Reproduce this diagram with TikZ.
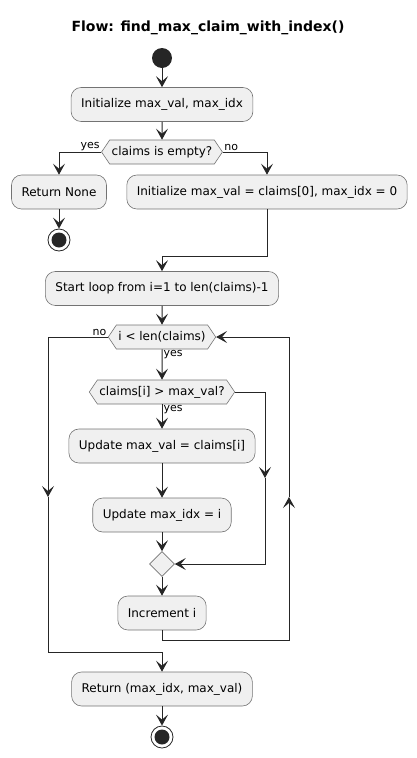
\documentclass[tikz,border=0pt]{standalone}
\usepackage{fontspec}
\setmainfont{DejaVu Sans}
\usetikzlibrary{arrows.meta,shapes.geometric,shapes.symbols}
\tikzset{
    act/.style={draw=black!55, fill=black!6, line width=0.6pt, rounded corners=10pt,
                minimum height=34pt, inner xsep=10pt, font=\fontsize{12}{14}\selectfont},
    test/.style={signal, signal to=east and west, signal pointer angle=112,
                 draw=black!55, fill=black!6, line width=0.6pt, minimum height=24pt,
                 inner xsep=2pt, inner ysep=2pt, font=\fontsize{12}{14}\selectfont},
    merge/.style={diamond, draw=black!55, fill=black!6, line width=0.6pt,
                  minimum size=25pt, inner sep=0pt},
    startdot/.style={circle, fill=black!85, minimum size=20pt, inner sep=0pt},
    stopdot/.style={circle, draw=black!85, fill=white, line width=0.8pt,
                    minimum size=22pt, inner sep=0pt,
                    path picture={\fill[black!85] (path picture bounding box.center) circle (7.5pt);}},
    flow/.style={-{Stealth[length=11pt, width=12pt, inset=5pt]}, line width=1pt, draw=black!85},
    tag/.style={font=\fontsize{11}{13}\selectfont, inner sep=1pt},
    heading/.style={font=\bfseries\fontsize{14}{16}\selectfont},
}

\begin{document}
\begin{tikzpicture}[x=1pt, y=-1pt]

    \useasboundingbox (0,0) rectangle (417,758);

    \node[heading] (title) at (208,28) {Flow: find\_max\_claim\_with\_index()};

    \node[startdot] (start) at (162,58) {};
    \node[act] (init) at (162,104.5) {Initialize max\_val, max\_idx};
    \node[test] (empty) at (162,152) {claims is empty?};
    \node[act] (retnone) at (59,192) {Return None};
    \node[stopdot] (stopa) at (59,240) {};
    \node[act] (initfirst) at (267,192) {Initialize max\_val = claims[0], max\_idx = 0};
    \node[act] (loopstart) at (162,288.5) {Start loop from i=1 to len(claims)-1};
    \node[test] (cond) at (162,337) {i < len(claims)};
    \node[test] (bigger) at (162,392) {claims[i] > max\_val?};
    \node[act] (updval) at (162,446) {Update max\_val = claims[i]};
    \node[act] (updidx) at (162,515) {Update max\_idx = i};
    \node[merge] (join) at (162,564) {};
    \node[act] (incr) at (162,613) {Increment i};
    \node[act] (ret) at (162,689) {Return (max\_idx, max\_val)};
    \node[stopdot] (stopb) at (162,737) {};

    \coordinate (bend) at (162,256);
    \coordinate (skipmid) at (265,478);
    \coordinate (backlow) at (289,640);
    \coordinate (backmid) at (289,497);
    \coordinate (exitmid) at (48,497);
    \coordinate (exitlow) at (162,652);

    \draw[flow] (start) -- (init);
    \draw[flow] (init) -- (empty);
    \draw[flow] (empty.west) node[tag, above left] {yes} -| (retnone);
    \draw[flow] (empty.east) node[tag, above right] {no} -| (initfirst);
    \draw[flow] (retnone) -- (stopa);
    \draw[flow] (initfirst.south) |- (bend) -- (loopstart);
    \draw[flow] (loopstart) -- (cond);
    \draw[flow] (cond.south) node[tag, below right] {yes} -- (bigger);
    \draw[flow] (bigger.south) node[tag, below right] {yes} -- (updval);
    \draw[flow] (updval) -- (updidx);
    \draw[flow] (updidx) -- (join);
    \draw[flow] (bigger.east) -| (skipmid);
    \draw[flow] (skipmid) |- (join.east);
    \draw[flow] (join) -- (incr);
    \draw[flow] (incr.south) |- (backlow) -- (backmid);
    \draw[flow] (backmid) |- (cond.east);
    \draw[flow] (cond.west) node[tag, above left] {no} -| (exitmid);
    \draw[flow] (exitmid) |- (exitlow) -- (ret);
    \draw[flow] (ret) -- (stopb);

\end{tikzpicture}
\end{document}
